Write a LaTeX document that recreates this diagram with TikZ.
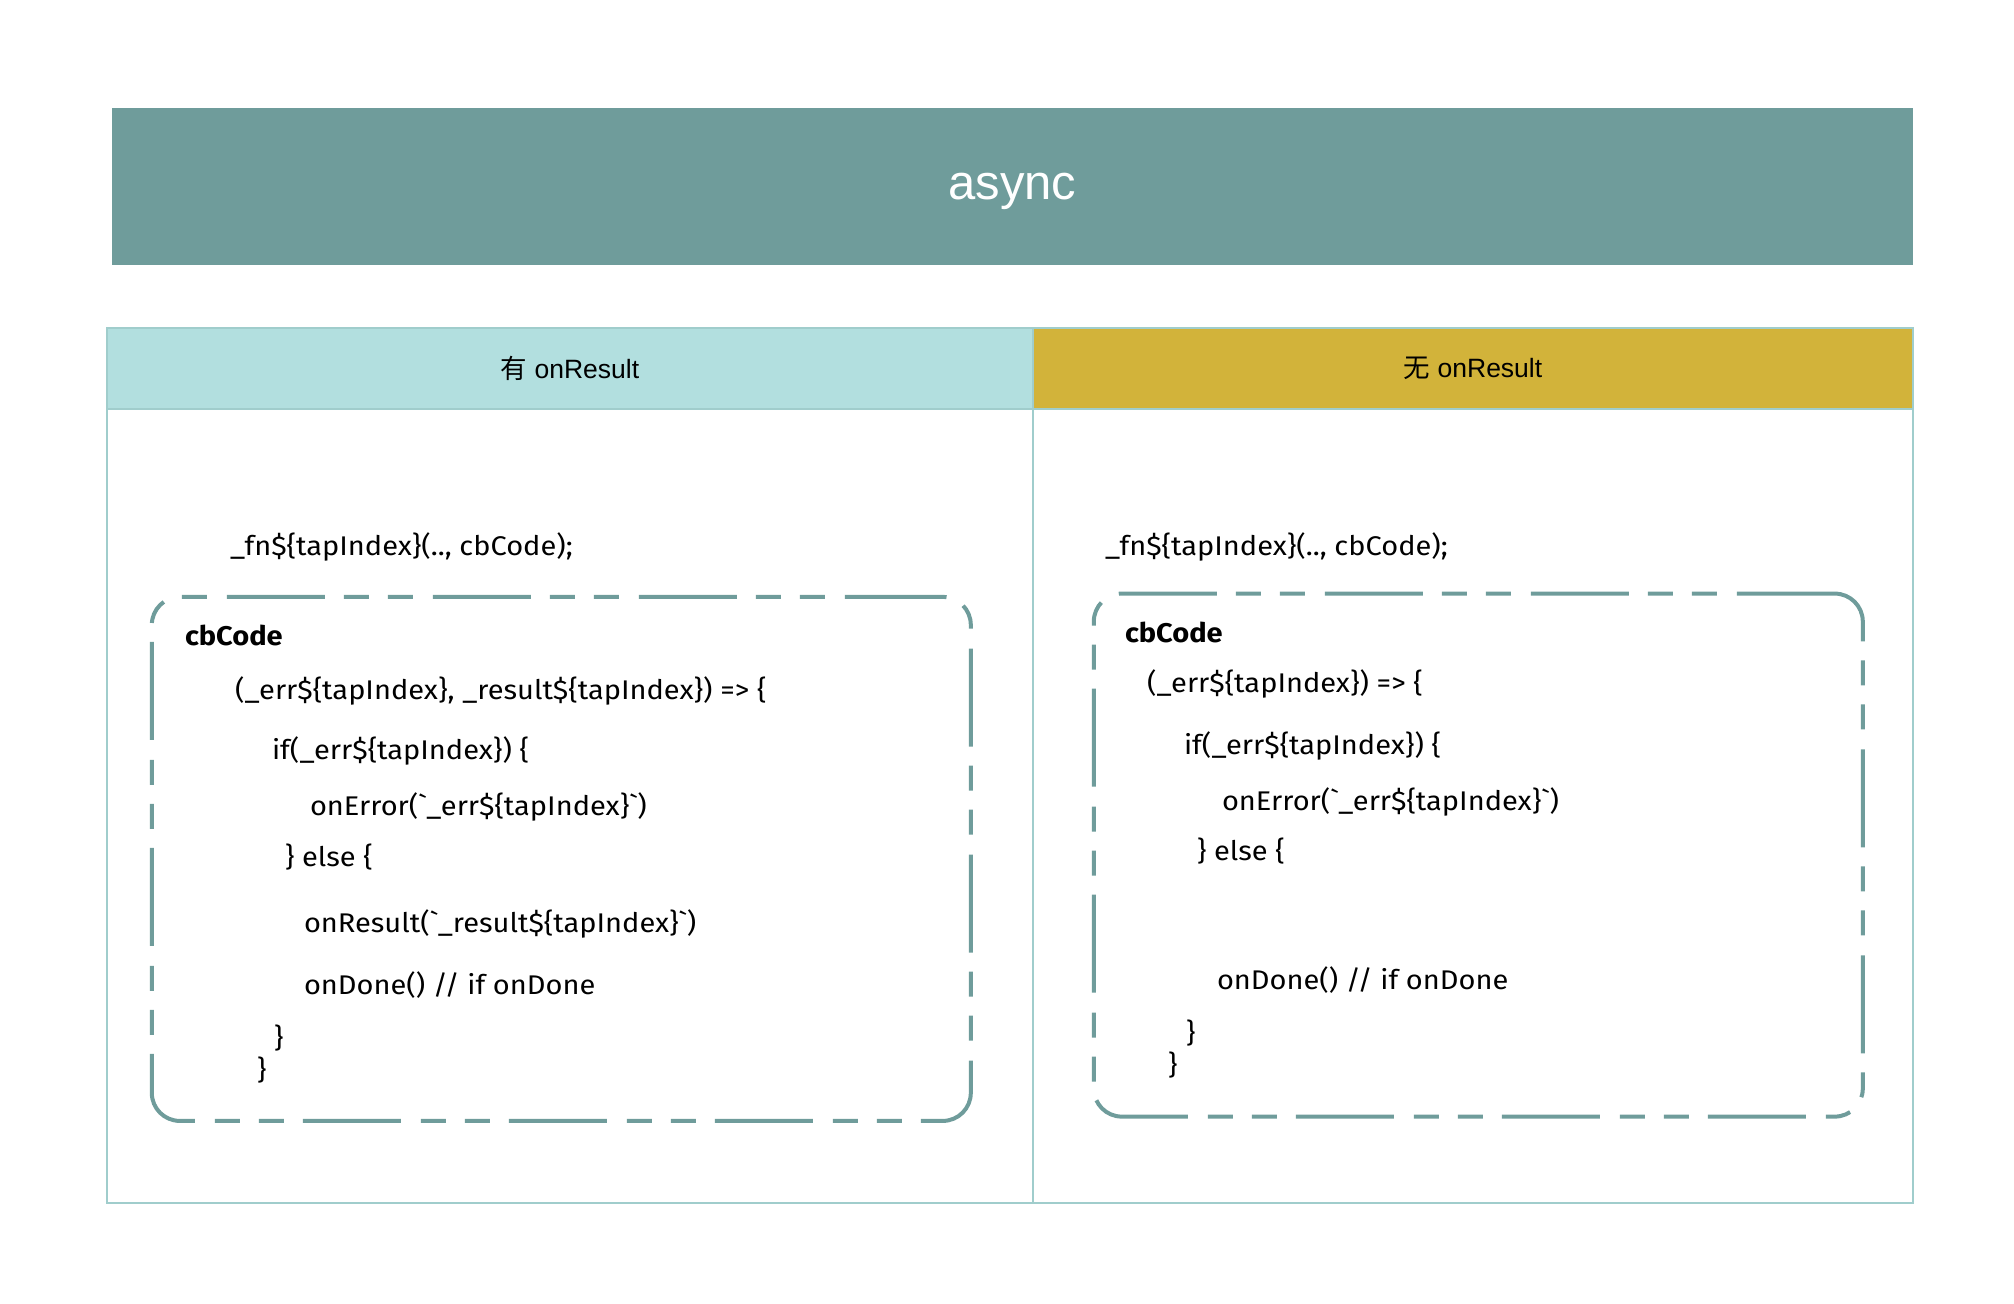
\documentclass[tikz,border=0pt]{standalone}
\usepackage{fontspec}
\usetikzlibrary{positioning}
\setmainfont{Fira Sans}[FakeStretch=1.075]
\newfontfamily\headfont{Liberation Sans}
\newfontfamily\cjk{Noto Sans CJK SC}
\definecolor{tealbar}{RGB}{111,156,155}
\definecolor{cyanhead}{RGB}{178,223,223}
\definecolor{goldhead}{RGB}{210,179,58}
\definecolor{gridline}{RGB}{160,205,204}
\newcommand{\tick}{\textasciigrave}

\begin{document}
\begin{tikzpicture}
  [x=1pt, y=-1pt,
   every node/.style={inner sep=0pt, outer sep=0pt},
   title/.style={fill=tealbar, text=white, minimum width=1801pt, minimum height=157pt,
                 text depth=0pt, font=\headfont\fontsize{49}{57}\selectfont},
   headcell/.style={draw=gridline, line width=2pt, minimum height=81pt,
                    font=\headfont\fontsize{26.5}{31}\selectfont},
   bodycell/.style={draw=gridline, line width=2pt, minimum height=794pt},
   code/.style={anchor=base west, font=\fontsize{27}{32}\selectfont},
   cbbox/.style={draw=tealbar, line width=4pt, rounded corners=28pt,
                 dash pattern=on 98pt off 20pt on 25pt off 19pt on 25pt off 19pt}]

  \useasboundingbox (0,0) rectangle (2014,1304);

  \node[title] (async) at (1012.5,186.5) {async};

  % table
  \node[headcell, fill=cyanhead, minimum width=926pt] (withres) at (570,368.5) {{\cjk 有} onResult};
  \node[headcell, fill=goldhead, minimum width=880pt] (nores) at (1473,368.5) {{\cjk 无} onResult};
  \node[bodycell, minimum width=926pt, below=0pt of withres] (withbody) {};
  \node[bodycell, minimum width=880pt, below=0pt of nores] (nobody) {};

  % left column
  \node[code] (fnL) at (230,555) {\_fn\$\{tapIndex\}(.., cbCode);};
  \node[cbbox, minimum width=819pt, minimum height=524pt] (cbL) at (561.3,858.9) {};
  \node[code, font=\fontsize{27}{32}\selectfont\bfseries] (nameL) at (185,645) {cbCode};
  \node[code] (argL) at (235,699) {(\_err\$\{tapIndex\}, \_result\$\{tapIndex\}) => \{};
  \node[code] (ifL) at (272,759) {if(\_err\$\{tapIndex\}) \{};
  \node[code] (errL) at (310,815) {onError(\tick\_err\$\{tapIndex\}\tick)};
  \node[code] (elseL) at (285,866) {\} else \{};
  \node[code] (resL) at (304,932) {onResult(\tick\_result\$\{tapIndex\}\tick)};
  \node[code] (doneL) at (304,994) {onDone() // if onDone};
  \node[code] (closeiL) at (274,1047) {\}};
  \node[code] (closeoL) at (257,1079) {\}};

  % right column
  \node[code] (fnR) at (1105,555) {\_fn\$\{tapIndex\}(.., cbCode);};
  \node[cbbox, minimum width=769pt, minimum height=523pt] (cbR) at (1478.3,855.1) {};
  \node[code, font=\fontsize{27}{32}\selectfont\bfseries] (nameR) at (1125,642) {cbCode};
  \node[code] (argR) at (1147,692) {(\_err\$\{tapIndex\}) => \{};
  \node[code] (ifR) at (1184,754) {if(\_err\$\{tapIndex\}) \{};
  \node[code] (errR) at (1222,810) {onError(\tick\_err\$\{tapIndex\}\tick)};
  \node[code] (elseR) at (1197,860) {\} else \{};
  \node[code] (doneR) at (1217,989) {onDone() // if onDone};
  \node[code] (closeiR) at (1186,1042) {\}};
  \node[code] (closeoR) at (1168,1074) {\}};
\end{tikzpicture}
\end{document}
